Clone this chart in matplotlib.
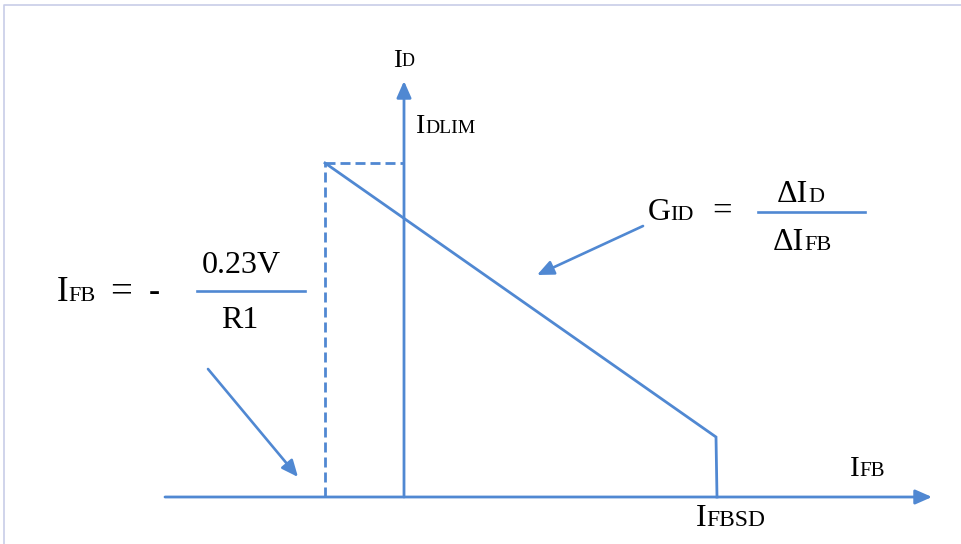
import matplotlib.pyplot as plt

BLUE = '#5088d2'
SERIF = ['Liberation Serif', 'DejaVu Serif']

# diagram values, 1 unit = 100 px of the output picture
ifb_curve = [-0.79, 3.12, 3.13]   # I_FB along the gain line
id_curve = [3.34, 0.60, 0.0]      # I_D along the gain line
ifb_lim = -0.79                   # -0.23V / R1
id_lim = 3.34                     # I_DLIM
x_axis = [-2.39, 5.28]
y_axis = [0.0, 4.16]

fig = plt.figure(figsize=(9.62, 5.44), dpi=100)
ax = fig.add_axes([0, 0, 1, 1])
ax.set_xlim(-4.04, 5.58)
ax.set_ylim(-0.47, 4.97)
ax.axis('off')

LW = 2.0


def P(xp, yp):
    # pixel position -> data position (used for labels only)
    return xp / 100 - 4.04, 4.97 - yp / 100


def arrow(p0, p1, lw=LW):
    ax.annotate('', xy=p1, xytext=p0,
                arrowprops=dict(arrowstyle='-|>,head_length=0.5,head_width=0.22',
                                color=BLUE, lw=lw, mutation_scale=20,
                                shrinkA=0, shrinkB=0))


def sc_text(xp, yp, big, small, size, small_size):
    # big capital followed by small capitals on the same baseline
    t = ax.text(*P(xp, yp), big, fontsize=size, family=SERIF, va='baseline', ha='left')
    ax.annotate(small, xy=(1, 0), xycoords=t, xytext=(-0.2, 0.217 * size),
                textcoords='offset points', fontsize=small_size, family=SERIF,
                va='baseline', ha='left')


# frame lines of the original slide
ax.plot([-4.0, -4.0, 5.58], [-0.47, 4.92, 4.92], color='#c8cde8', lw=1.2)

# axes
arrow((x_axis[0], 0), (x_axis[1], 0))
arrow((0, y_axis[0]), (0, y_axis[1]))

# limit lines
ax.plot([ifb_lim, ifb_lim], [0, id_lim], color=BLUE, lw=LW, dashes=(3.6, 1.8))
ax.plot([ifb_lim, 0], [id_lim, id_lim], color=BLUE, lw=LW, dashes=(3.6, 1.8))

# gain line and shutdown
ax.plot(ifb_curve, id_curve, color=BLUE, lw=LW, solid_joinstyle='miter')

# pointer arrows
arrow(P(208, 369), P(298, 477), lw=1.9)
arrow(P(643, 226), P(537, 275), lw=1.9)

# fraction bars
ax.plot(*zip(P(197, 291), P(305, 291)), color=BLUE, lw=1.9)
ax.plot(*zip(P(758, 212), P(865, 212)), color=BLUE, lw=1.9)

# labels
sc_text(393, 67, 'I', 'D', 19, 13)
sc_text(416, 133, 'I', 'DLIM', 20, 14)
sc_text(57, 301, 'I', 'FB', 25, 16)
ax.text(*P(121, 302), '=', fontsize=28, family=SERIF, ha='center', va='baseline')
ax.text(*P(154, 301), '-', fontsize=24, family=SERIF, ha='center', va='baseline')
ax.text(*P(241, 273), '0.23V', fontsize=23, family=SERIF, ha='center', va='baseline')
ax.text(*P(240, 328), 'R1', fontsize=23, family=SERIF, ha='center', va='baseline')

sc_text(648, 220, 'G', 'ID', 23, 16)
ax.text(*P(722, 221), '=', fontsize=25, family=SERIF, ha='center', va='baseline')
sc_text(777, 202, '\u0394I', 'D', 23, 16)
sc_text(773, 250, '\u0394I', 'FB', 23, 16)

sc_text(850, 476, 'I', 'FB', 21, 15)
sc_text(696, 526, 'I', 'FBSD', 23, 17)

fig.savefig('out.png', dpi=100, facecolor='white')
